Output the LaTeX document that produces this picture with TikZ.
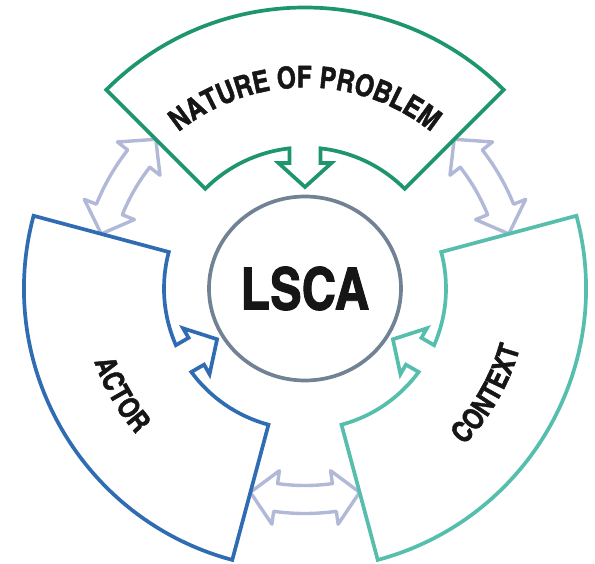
\documentclass[tikz,border=0pt]{standalone}
\usepackage{fontspec}
\newfontfamily\condfont{texgyreheroscn-bold.otf}[FakeBold=1.6]
\usetikzlibrary{shapes.geometric,decorations.text}
\definecolor{mygreen}{RGB}{30,150,108}
\definecolor{myblue}{RGB}{48,108,178}
\definecolor{myteal}{RGB}{86,190,172}
\definecolor{mygrey}{RGB}{112,130,148}
\definecolor{mylilac}{RGB}{178,184,216}
\definecolor{myink}{RGB}{22,22,22}
\tikzset{
    sectorLine/.style = {line width=3.7pt, line join=miter, fill=white},
    link/.style   = {line width=3.4pt, draw=mylilac, line join=round},
    hub/.style    = {ellipse, draw=mygrey, line width=3.7pt, fill=white,
            minimum width=192pt, minimum height=184pt, inner sep=0pt,
            font=\condfont\fontsize{58}{58}\selectfont, text=myink},
    arcText/.style = {decorate, decoration={text along path,
            text align=center, text color=myink}},
    sector/.pic = {
        \draw[sectorLine] (135:281) arc[start angle=135, end angle=45, radius=281]
            -- (45:141) arc[start angle=45, end angle=83.7, radius=141]
            -- (15.5,125.5) -- (26.5,125.5) -- (0,101.5) -- (-26.5,125.5) -- (-15.5,125.5)
            -- (96.3:141) arc[start angle=96.3, end angle=135, radius=141] -- cycle;
    },
    dblArrow/.pic = {
        \draw[link] (255:211) -- (262:238) -- (262:225)
            arc[start angle=262, end angle=278, radius=225]
            -- (278:238) -- (285:211) -- (278:184) -- (278:197)
            arc[start angle=278, end angle=262, radius=197] -- (262:184) -- cycle;
    },
}

\begin{document}
\begin{tikzpicture}[x=1pt,y=1pt]
    \useasboundingbox (-305,-274.5) rectangle (290,288.5);
    \begin{scope}[xscale=1.035]
        % links between the three parts
        \pic[rotate=0]    (linkBottom) {dblArrow};
        \pic[rotate=120]  (linkLeft)   {dblArrow};
        \pic[rotate=-120] (linkRight)  {dblArrow};
        % the three parts
        \pic[color=mygreen]             (nature)  {sector};
        \pic[color=myblue, rotate=120]  (actor)   {sector};
        \pic[color=myteal, rotate=-120] (context) {sector};
    \end{scope}
    \node[hub] (lsca) at (0,0) {LSCA};
    % labels
    \path[arcText, decoration={text={|\condfont\fontsize{30}{30}\selectfont|NATURE OF PROBLEM}}]
        (150:201) arc[start angle=150, end angle=30, radius=201];
    \path[arcText, decoration={text={|\condfont\fontsize{29}{29}\selectfont|ACTOR}}]
        (180:223) arc[start angle=180, end angle=240, radius=223];
    \path[arcText, decoration={text={|\condfont\fontsize{29}{29}\selectfont|CONTEXT}}]
        (300:223) arc[start angle=300, end angle=360, radius=223];
\end{tikzpicture}
\end{document}
